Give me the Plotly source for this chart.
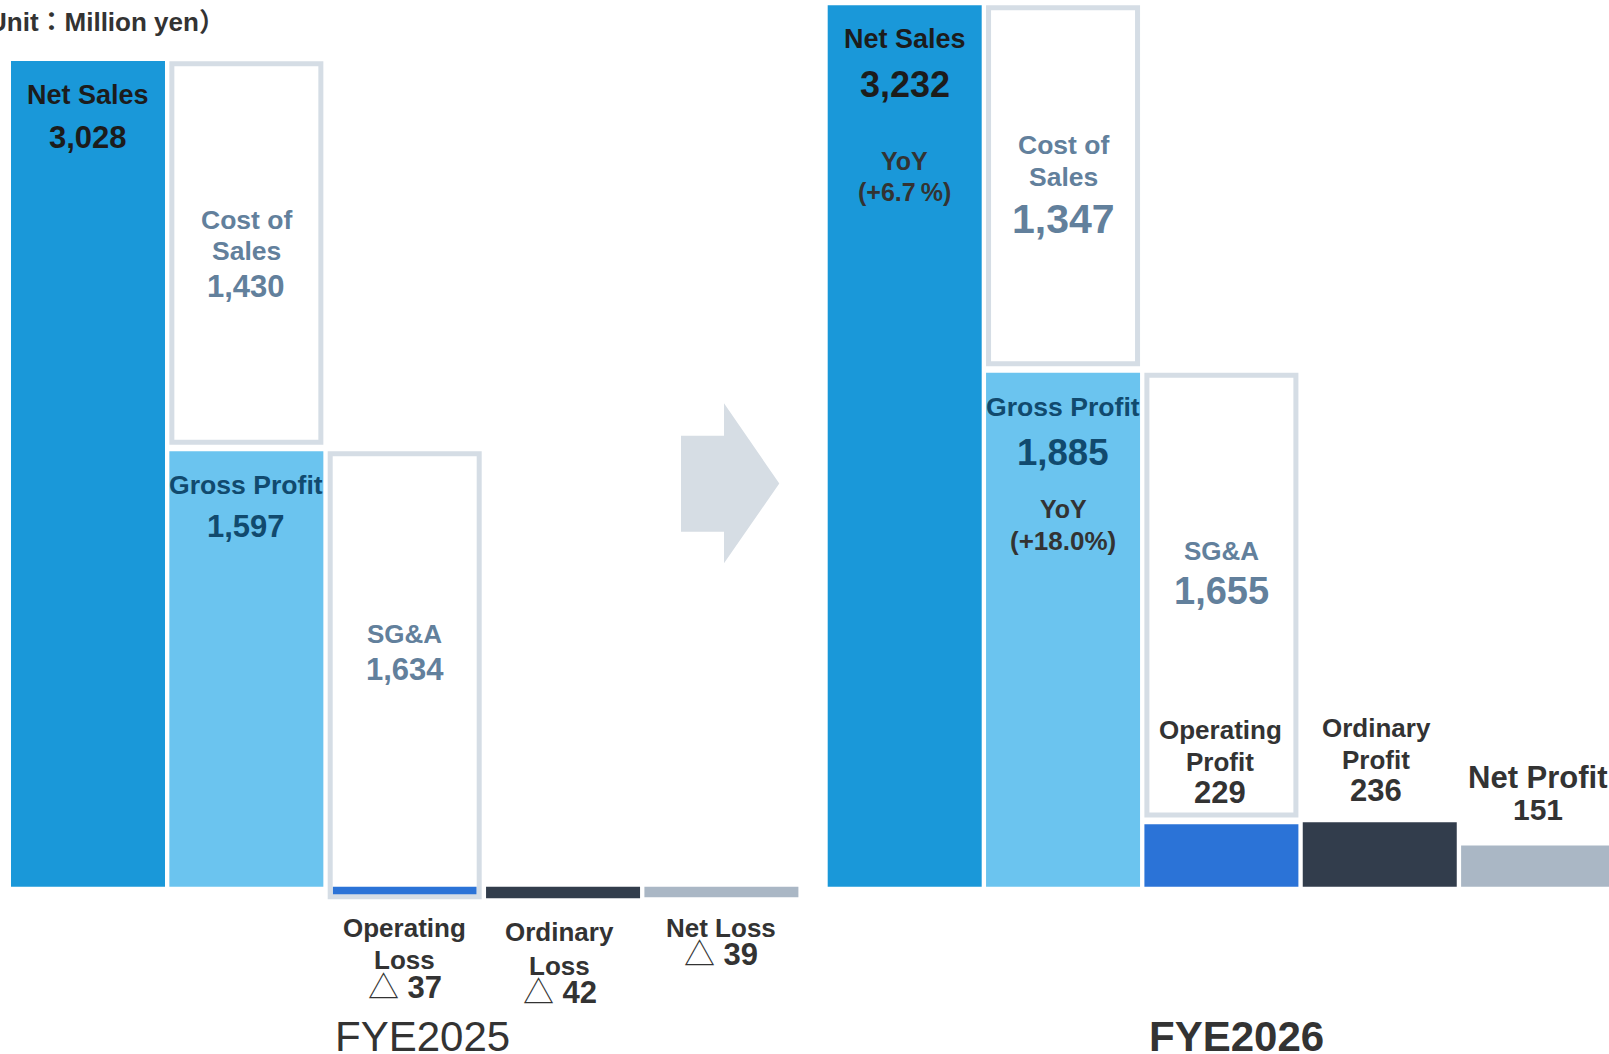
import plotly.graph_objects as go

# ---------------- data (million yen) ----------------
periods = ["FYE2025", "FYE2026"]
net_sales = [3028, 3232]
cost_of_sales = [1430, 1347]
gross_profit = [1597, 1885]
sga_expenses = [1634, 1655]
operating_result = [-37, 229]
ordinary_result = [-42, 236]
net_result = [-39, 151]
yoy_net_sales = [None, 6.7]
yoy_gross_profit = [None, 18.0]
unit_text = "（Unit：Million yen）"

# ---------------- layout constants ----------------
W, H = 1609, 1054
BASE_PX = 886.7          # pixel row of the zero line
UNITS_PER_PX = 3.6672    # million yen per pixel
COL_PITCH = 158.35
BAR_W = 154
BOX_LINE = 5
BOX_GAP = 6.5
YEAR_X = [88.0, 904.7]   # centre of the first column for each period

FONT = "Liberation Sans, Arial, Noto Sans CJK JP, sans-serif"
C_NET = "#1a98d9"
C_GROSS = "#6bc4ef"
C_OP = "#2b73d7"
C_ORD = "#323d4c"
C_NETINC = "#aab7c5"
C_BOX = "#d5dde5"
C_SLATE = "#62809c"
C_NAVY = "#114a6e"
C_DARK = "#1c1c1c"
C_GREY = "#333333"


def col_x(k, i):
    return YEAR_X[k] + i * COL_PITCH


def to_units(p):
    return p * UNITS_PER_PX


def y_px(v):
    return BASE_PX - v / UNITS_PER_PX


def paper_y(p):
    return 1 - p / H


fig = go.Figure()

# ---- filled bars ----
filled = [
    (0, net_sales, C_NET),
    (1, gross_profit, C_GROSS),
    (2, operating_result, C_OP),
    (3, ordinary_result, C_ORD),
    (4, net_result, C_NETINC),
]
for col, vals, color in filled:
    widths = []
    for k, v in enumerate(vals):
        # an operating loss sits inside the SG&A outline
        if col == 2 and v < 0:
            widths.append(BAR_W - 2 * BOX_LINE)
        else:
            widths.append(BAR_W)
    fig.add_trace(go.Bar(
        x=[col_x(k, col) for k in range(len(periods))],
        y=vals, base=[0] * len(vals), width=widths,
        marker=dict(color=color, line=dict(width=0)),
        hoverinfo="skip", showlegend=False,
    ))


# ---- outlined cost boxes ----
def box_trace(col, lowers, uppers):
    bases, lengths = [], []
    for lo, up in zip(lowers, uppers):
        bottom = lo if lo < 0 else lo + to_units(BOX_GAP + BOX_LINE / 2)
        top = up - to_units(BOX_LINE / 2)
        bases.append(bottom)
        lengths.append(top - bottom)
    return go.Bar(
        x=[col_x(k, col) for k in range(len(periods))],
        y=lengths, base=bases, width=BAR_W - BOX_LINE,
        marker=dict(color="rgba(0,0,0,0)", line=dict(color=C_BOX, width=BOX_LINE)),
        hoverinfo="skip", showlegend=False,
    )


fig.add_trace(box_trace(
    1, gross_profit, [g + c for g, c in zip(gross_profit, cost_of_sales)]))
fig.add_trace(box_trace(
    2, [g - s for g, s in zip(gross_profit, sga_expenses)], gross_profit))

# ---- text ----
ann = []


def label(x, yp, text, size, color, bold=True, xanchor="center"):
    ann.append(dict(
        x=x, y=paper_y(yp), xref="x", yref="paper", text=text,
        showarrow=False, xanchor=xanchor, yanchor="middle",
        font=dict(family=FONT, size=size, color=color,
                  weight="bold" if bold else "normal"),
    ))


def fmt(v):
    return f"{abs(v):,}"


TRI = '<span style="font-weight:normal">△</span> '

ann_y = {
    # period index -> pixel rows of each text line
    "net": [(95, 137), (39, 84)],
    "net_yoy": [None, (161, 192)],
    "cost": [(219.6, 251.4, 286.3), (144.5, 177, 218.7)],
    "gross": [(484.5, 526.5), (406.7, 452.5)],
    "gross_yoy": [None, (509.3, 541)],
    "sga": [(634, 669), (551, 591)],
    "op": [(928, 960, 987), (729.7, 761.7, 792.5)],
    "ord": [(932, 966, 992), (728, 760, 790.5)],
    "netinc": [(927.7, 954), (777, 809)],
}
num_size = {"net": [31, 36], "cost": [31, 41], "gross": [31, 36.6], "sga": [31, 38]}
text_x_shift = {"ord": -3.5, "op": [0, -1.4]}

for k in range(len(periods)):
    # net sales
    y1, y2 = ann_y["net"][k]
    label(col_x(k, 0), y1, "Net Sales", 27, C_DARK)
    label(col_x(k, 0), y2, fmt(net_sales[k]), num_size["net"][k], C_DARK)
    if yoy_net_sales[k] is not None:
        a, b = ann_y["net_yoy"][k]
        label(col_x(k, 0), a, "YoY", 25, C_GREY)
        label(col_x(k, 0), b, f"(+{yoy_net_sales[k]:.1f}\u2009%)", 25, C_GREY)
    # cost of sales
    a, b, c = ann_y["cost"][k]
    label(col_x(k, 1), a, "Cost of", 26.5, C_SLATE)
    label(col_x(k, 1), b, "Sales", 26.5, C_SLATE)
    label(col_x(k, 1), c, fmt(cost_of_sales[k]), num_size["cost"][k], C_SLATE)
    # gross profit
    a, b = ann_y["gross"][k]
    label(col_x(k, 1), a, "Gross Profit", 26.6, C_NAVY)
    label(col_x(k, 1), b, fmt(gross_profit[k]), num_size["gross"][k], C_NAVY)
    if yoy_gross_profit[k] is not None:
        a, b = ann_y["gross_yoy"][k]
        label(col_x(k, 1), a, "YoY", 25, C_GREY)
        label(col_x(k, 1), b, f"(+{yoy_gross_profit[k]:.1f}%)", 26, C_GREY)
    # SG&A
    a, b = ann_y["sga"][k]
    label(col_x(k, 2), a, "SG&amp;A", 26, C_SLATE)
    label(col_x(k, 2), b, fmt(sga_expenses[k]), num_size["sga"][k], C_SLATE)
    # operating result
    v = operating_result[k]
    a, b, c = ann_y["op"][k]
    xo = col_x(k, 2) + text_x_shift["op"][k]
    label(xo, a, "Operating", 26, C_GREY)
    label(xo, b, "Loss" if v < 0 else "Profit", 26, C_GREY)
    label(xo, c, (TRI if v < 0 else "") + fmt(v), 31, C_GREY)
    # ordinary result
    v = ordinary_result[k]
    a, b, c = ann_y["ord"][k]
    xo = col_x(k, 3) + text_x_shift["ord"]
    label(xo, a, "Ordinary", 26, C_GREY)
    label(xo, b, "Loss" if v < 0 else "Profit", 26, C_GREY)
    label(xo, c, (TRI if v < 0 else "") + fmt(v), 31, C_GREY)
    # net result
    v = net_result[k]
    a, b = ann_y["netinc"][k]
    if v < 0:
        label(col_x(k, 4), a, "Net Loss", 26, C_GREY)
        label(col_x(k, 4), b, TRI + fmt(v), 31, C_GREY)
    else:
        label(col_x(k, 4), a, "Net Profit", 31, C_GREY)
        label(col_x(k, 4), b, fmt(v), 30, C_GREY)

# period captions
label(422.5, 1036.7, periods[0], 42, C_GREY, bold=False)
label(1236.7, 1036, periods[1], 42, C_GREY, bold=True)
# unit note
label(227, 22, unit_text, 26, C_GREY, xanchor="right")

# ---- arrow between the two periods ----
arrow = [(681, 435.7), (724, 435.7), (724, 403.3), (779.3, 483.5),
         (724, 563.3), (724, 531.7), (681, 531.7)]
path = "M " + " L ".join(f"{x},{paper_y(y):.5f}" for x, y in arrow) + " Z"

fig.update_layout(
    width=W, height=H,
    margin=dict(l=0, r=0, t=0, b=0),
    paper_bgcolor="white", plot_bgcolor="white",
    barmode="overlay",
    showlegend=False,
    xaxis=dict(range=[0, W], visible=False, fixedrange=True),
    yaxis=dict(range=[-to_units(H - BASE_PX), to_units(BASE_PX)],
               visible=False, fixedrange=True),
    annotations=ann,
    shapes=[dict(type="path", path=path, xref="x", yref="paper",
                 fillcolor="#d6dde4", line=dict(width=0), layer="below")],
)

fig.write_html("out.html", config={"displayModeBar": False})
